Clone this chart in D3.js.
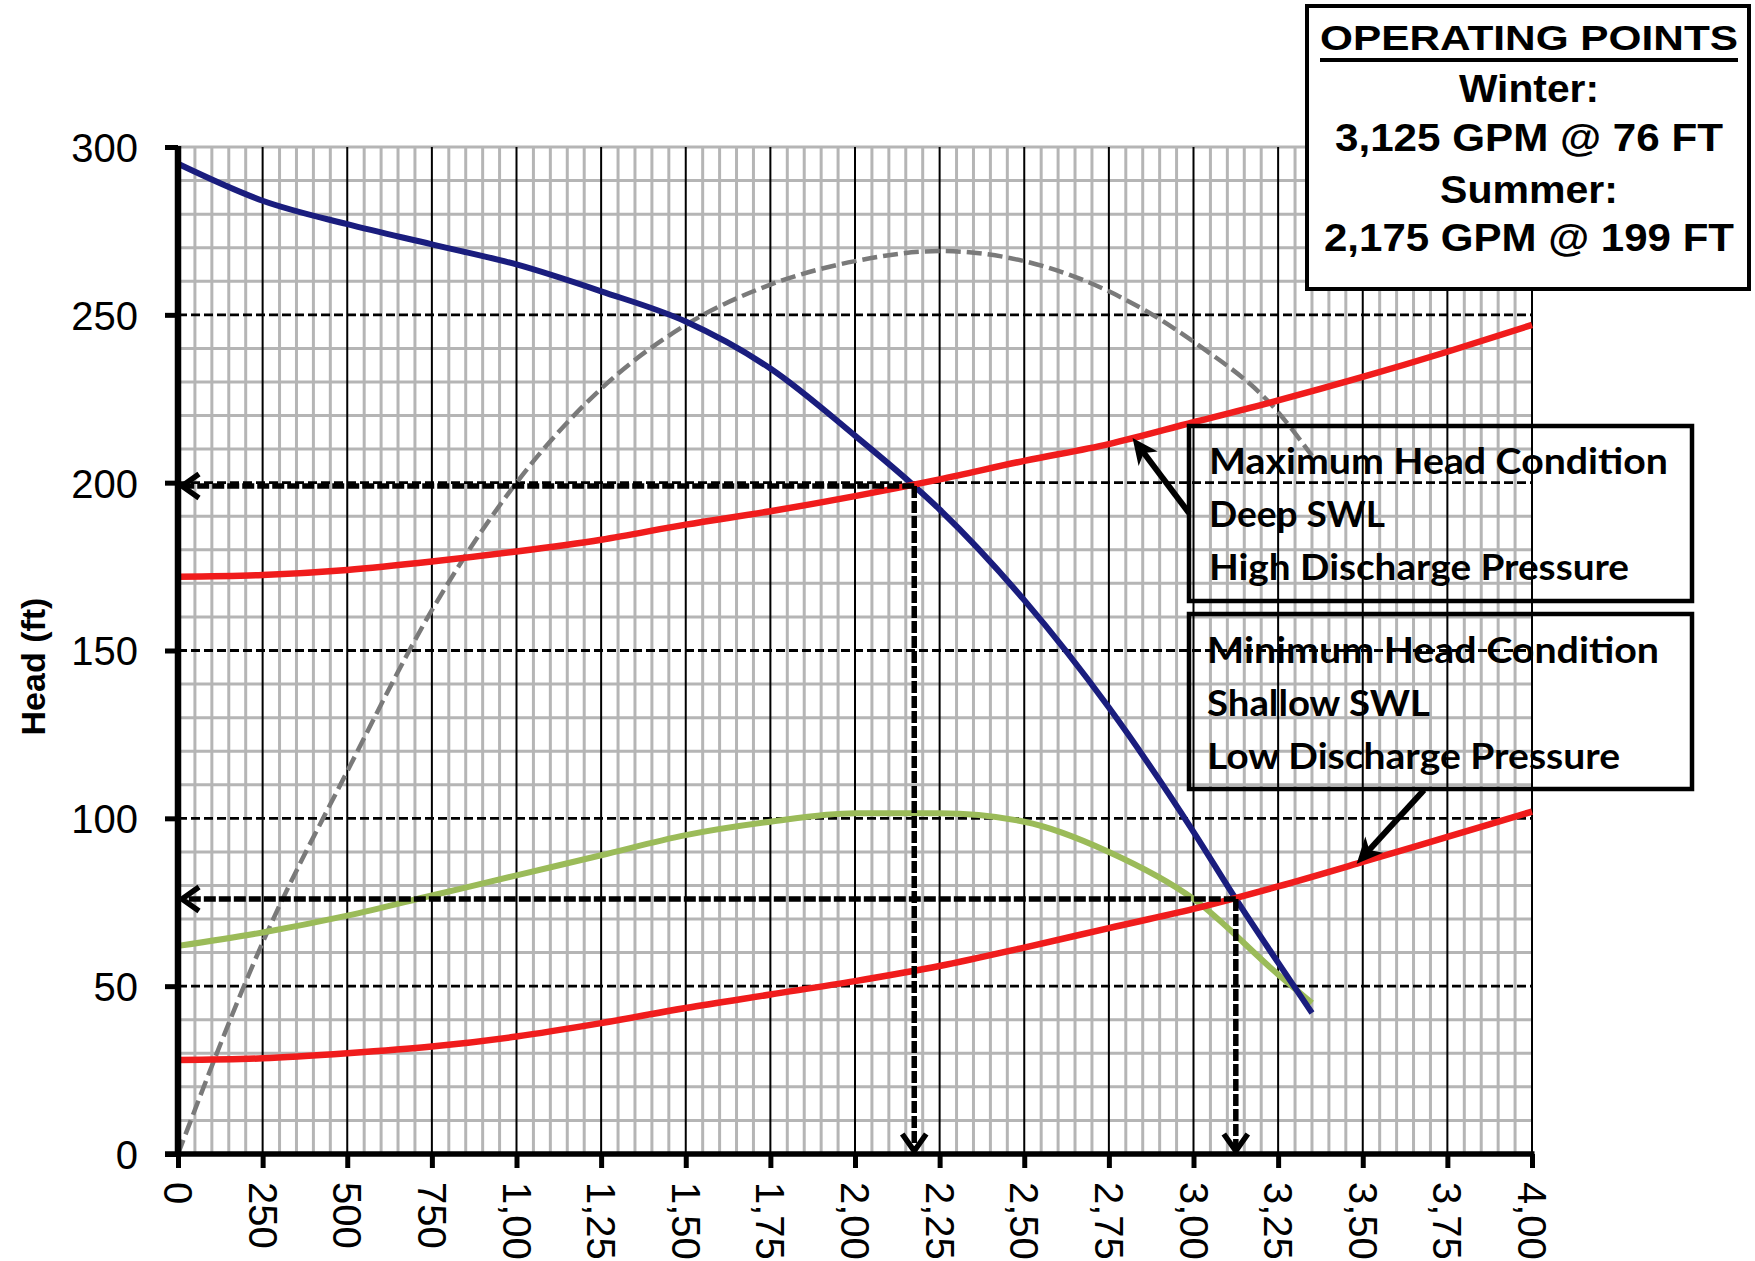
<!DOCTYPE html>
<html>
<head>
<meta charset="utf-8">
<script src="https://cdn.jsdelivr.net/npm/d3@7"></script>
<style>
  html, body { margin: 0; padding: 0; background: #fff; overflow: hidden; }
  svg { display: block; }
</style>
</head>
<body>
<svg id="chart" width="1755" height="1261"></svg>
<script>
// ---- Pump curve: head (ft) vs flow (GPM) ----
const pumpFlow = [0, 250, 500, 750, 1000, 1250, 1500, 1750, 2000, 2175, 2250, 2500, 2750, 3000, 3125, 3250, 3350];
const pumpHead = [295, 284, 277, 271, 265, 257, 248, 234, 214, 199, 192, 165, 133, 96, 76, 57, 42];

// ---- Efficiency curve (grey dashed), plotted on the head scale ----
const effFlow = [0, 250, 500, 750, 1000, 1250, 1500, 1750, 2000, 2250, 2500, 2750, 3000, 3250, 3350];
const effValue = [0, 63, 114, 162, 200, 228, 247, 259, 266, 269, 266, 257, 242, 221, 208];

// ---- Brake horsepower curve (green), plotted on the head scale ----
const bhpFlow = [0, 250, 500, 750, 1000, 1250, 1500, 1750, 2000, 2250, 2500, 2750, 3000, 3250, 3350];
const bhpValue = [62, 66, 71, 77, 83, 89, 95, 99, 101.5, 101.5, 99, 90, 76, 53.5, 45];

// ---- System curves (red) ----
const systemFlow = [0, 250, 500, 750, 1000, 1250, 1500, 1750, 2000, 2250, 2500, 2750, 3000, 3250, 3500, 3750, 4000];
const systemHighHead = [172, 172.5, 174, 176.5, 179.5, 183, 187.5, 191.5, 196, 201, 206.5, 211.5, 218, 224.5, 231.5, 239, 247];
const systemLowHead = [28, 28.5, 30, 32, 35, 39, 43.5, 47.5, 51.5, 56, 61.5, 67.3, 73, 79.7, 87, 94.5, 102];

// ---- Operating points: [summer, winter] ----
const operatingSeason = ["Summer", "Winter"];
const operatingFlow = [2175, 3125];
const operatingHead = [199, 76];

// ---- Axis ticks ----
const headTicks = [0, 50, 100, 150, 200, 250, 300];
const flowTicks = [0, 250, 500, 750, 1000, 1250, 1500, 1750, 2000, 2250, 2500, 2750, 3000, 3250, 3500, 3750, 4000];

// ---- Text ----
const headTitle = "Head (ft)";
const pointsTitle = "OPERATING POINTS";
const maxCondition = ["Maximum Head Condition", "Deep SWL", "High Discharge Pressure"];
const minCondition = ["Minimum Head Condition", "Shallow SWL", "Low Discharge Pressure"];

// ---- Layout ----
const plot = { left: 178, right: 1532, top: 147, bottom: 1154 };
const ARIAL = "'Liberation Sans', Arial, sans-serif";
const CALIBRI = "Lato, 'Open Sans', sans-serif";

const svg = d3.select("#chart");
const x = d3.scaleLinear().domain([0, 4000]).range([plot.left, plot.right]);
const y = d3.scaleLinear().domain([0, 300]).range([plot.bottom, plot.top]);
const fmt = d3.format(",");

// ---------- grid ----------
const grid = svg.append("g");
const minorFlow = d3.range(50, 4000, 50).filter(v => v % 250 !== 0);
const minorHead = d3.range(10, 301, 10).filter(v => v % 50 !== 0).concat([300]);
grid.selectAll(".mx").data(minorFlow).join("line")
  .attr("x1", d => x(d)).attr("x2", d => x(d))
  .attr("y1", y(0)).attr("y2", y(300))
  .attr("stroke", "#b5b5b5").attr("stroke-width", 3);
grid.selectAll(".my").data(minorHead).join("line")
  .attr("x1", x(0)).attr("x2", x(4000))
  .attr("y1", d => y(d)).attr("y2", d => y(d))
  .attr("stroke", "#b5b5b5").attr("stroke-width", 3);
grid.selectAll(".Mx").data(flowTicks.filter(v => v > 0)).join("line")
  .attr("x1", d => x(d)).attr("x2", d => x(d))
  .attr("y1", y(0)).attr("y2", y(300))
  .attr("stroke", "#000").attr("stroke-width", 2);
grid.selectAll(".My").data(headTicks.filter(v => v > 0 && v < 300)).join("line")
  .attr("x1", x(0)).attr("x2", x(4000))
  .attr("y1", d => y(d)).attr("y2", d => y(d))
  .attr("stroke", "#000").attr("stroke-width", 2.8)
  .attr("stroke-dasharray", "9,4");

// ---------- curves ----------
const lineGen = d3.line().x(d => x(d[0])).y(d => y(d[1])).curve(d3.curveMonotoneX);
const zip = (a, b) => a.map((v, i) => [v, b[i]]);

svg.append("path").datum(zip(effFlow, effValue)).attr("d", lineGen)
  .attr("fill", "none").attr("stroke", "#7a7a7a").attr("stroke-width", 4.5)
  .attr("stroke-dasharray", "15,6");
svg.append("path").datum(zip(bhpFlow, bhpValue)).attr("d", lineGen)
  .attr("fill", "none").attr("stroke", "#9bbb59").attr("stroke-width", 6);
svg.append("path").datum(zip(pumpFlow, pumpHead)).attr("d", lineGen)
  .attr("fill", "none").attr("stroke", "#1a1d7e").attr("stroke-width", 6);
svg.append("path").datum(zip(systemFlow, systemHighHead)).attr("d", lineGen)
  .attr("fill", "none").attr("stroke", "#f01c1c").attr("stroke-width", 6.5);
svg.append("path").datum(zip(systemFlow, systemLowHead)).attr("d", lineGen)
  .attr("fill", "none").attr("stroke", "#f01c1c").attr("stroke-width", 6.5);

// ---------- operating point leaders (dashed arrows to both axes) ----------
const lead = svg.append("g");
operatingFlow.forEach((q, i) => {
  const px = x(q), py = y(operatingHead[i]);
  const ax = x(0) + 4, ay = y(0) - 3;
  lead.append("line").attr("x1", px).attr("y1", py).attr("x2", ax + 3).attr("y2", py)
    .attr("stroke", "#000").attr("stroke-width", 5.5).attr("stroke-dasharray", "12,3");
  lead.append("line").attr("x1", px).attr("y1", py).attr("x2", px).attr("y2", ay - 3)
    .attr("stroke", "#000").attr("stroke-width", 5.5).attr("stroke-dasharray", "12,3");
  lead.append("path")
    .attr("d", `M${ax + 17},${py - 12} L${ax},${py} L${ax + 17},${py + 12}`)
    .attr("fill", "none").attr("stroke", "#000").attr("stroke-width", 5.5);
  lead.append("path")
    .attr("d", `M${px - 12},${ay - 17} L${px},${ay} L${px + 12},${ay - 17}`)
    .attr("fill", "none").attr("stroke", "#000").attr("stroke-width", 5.5);
});

// ---------- axes ----------
const yAxis = svg.append("g").attr("transform", `translate(${plot.left},0)`)
  .call(d3.axisLeft(y).tickValues(headTicks).tickSize(13).tickPadding(27).tickFormat(d3.format("d")));
yAxis.select(".domain").remove();
yAxis.selectAll(".tick line").attr("stroke", "#000").attr("stroke-width", 5);
yAxis.selectAll(".tick text").attr("font-family", ARIAL).attr("font-size", 40).attr("fill", "#000").attr("dy", "0.36em");

const xAxis = svg.append("g").attr("transform", `translate(0,${plot.bottom})`)
  .call(d3.axisBottom(x).tickValues(flowTicks).tickSize(14).tickFormat(fmt));
xAxis.select(".domain").remove();
xAxis.selectAll(".tick line").attr("stroke", "#000").attr("stroke-width", 5);
xAxis.selectAll(".tick text")
  .attr("font-family", ARIAL).attr("font-size", 40).attr("fill", "#000")
  .attr("text-anchor", "start")
  .attr("y", 0).attr("dy", "0.36em")
  .attr("transform", "translate(0,28) rotate(90)");

svg.append("line").attr("x1", plot.left).attr("x2", plot.left)
  .attr("y1", plot.top - 1).attr("y2", plot.bottom + 2.5)
  .attr("stroke", "#000").attr("stroke-width", 6.5);
svg.append("line").attr("x1", plot.left - 13).attr("x2", plot.right + 2.5)
  .attr("y1", plot.bottom).attr("y2", plot.bottom)
  .attr("stroke", "#000").attr("stroke-width", 5.5);

svg.append("text").text(headTitle)
  .attr("transform", `translate(33,${(plot.top + plot.bottom) / 2 + 16}) rotate(-90)`)
  .attr("text-anchor", "middle").attr("dy", "0.36em")
  .attr("font-family", ARIAL).attr("font-weight", "bold").attr("font-size", 34);

// ---------- operating points box ----------
const opBox = svg.append("g");
opBox.append("rect").attr("x", 1307).attr("y", 6).attr("width", 442).attr("height", 283)
  .attr("fill", "#fff").attr("stroke", "#000").attr("stroke-width", 4);
const cx = 1529;
opBox.append("text").text(pointsTitle)
  .attr("x", cx).attr("y", 50).attr("text-anchor", "middle")
  .attr("font-family", ARIAL).attr("font-weight", "bold").attr("font-size", 35)
  .attr("textLength", 418).attr("lengthAdjust", "spacingAndGlyphs");
opBox.append("line").attr("x1", cx - 209).attr("x2", cx + 209).attr("y1", 60).attr("y2", 60)
  .attr("stroke", "#000").attr("stroke-width", 4);
const summer = 0, winter = 1;
const pointsLines = [
  { t: operatingSeason[winter] + ":", y: 102, w: 140 },
  { t: `${fmt(operatingFlow[winter])} GPM @ ${operatingHead[winter]} FT`, y: 151, w: 388 },
  { t: operatingSeason[summer] + ":", y: 203, w: 178 },
  { t: `${fmt(operatingFlow[summer])} GPM @ ${operatingHead[summer]} FT`, y: 251, w: 410 }
];
pointsLines.forEach(l => {
  opBox.append("text").text(l.t).attr("x", cx).attr("y", l.y).attr("text-anchor", "middle")
    .attr("font-family", ARIAL).attr("font-weight", "bold").attr("font-size", 39)
    .attr("textLength", l.w).attr("lengthAdjust", "spacingAndGlyphs");
});

// ---------- condition callouts ----------
function interp(xs, ys, q) {
  const i = Math.max(1, d3.bisectLeft(xs, q));
  const t = (q - xs[i - 1]) / (xs[i] - xs[i - 1]);
  return ys[i - 1] + t * (ys[i] - ys[i - 1]);
}
function callout(tail, tipFlow, heads) {
  const tx = x(tipFlow), ty = y(interp(systemFlow, heads, tipFlow));
  const dx = tx - tail[0], dy = ty - tail[1];
  const len = Math.hypot(dx, dy), ux = dx / len, uy = dy / len;
  const nx = -uy, ny = ux, L = 26, W = 12;
  svg.append("line").attr("x1", tail[0]).attr("y1", tail[1])
    .attr("x2", tx - ux * L * 0.7).attr("y2", ty - uy * L * 0.7)
    .attr("stroke", "#000").attr("stroke-width", 6);
  const pts = [
    [tx, ty],
    [tx - ux * L + nx * W, ty - uy * L + ny * W],
    [tx - ux * L * 0.72, ty - uy * L * 0.72],
    [tx - ux * L - nx * W, ty - uy * L - ny * W]
  ];
  svg.append("polygon").attr("points", pts.map(p => p.join(",")).join(" ")).attr("fill", "#000");
}

function conditionBox(bx, by, lines, baselines, widths, textX) {
  const g = svg.append("g");
  g.append("rect").attr("x", bx).attr("y", by).attr("width", 503).attr("height", 175)
    .attr("fill", "none").attr("stroke", "#000").attr("stroke-width", 4.5);
  lines.forEach((t, i) => {
    g.append("text").text(t).attr("x", textX).attr("y", baselines[i])
      .attr("font-family", CALIBRI).attr("font-weight", "bold").attr("font-size", 36)
      .attr("textLength", widths[i]).attr("lengthAdjust", "spacingAndGlyphs");
  });
}

conditionBox(1189, 426, maxCondition, [474, 527, 580], [459, 176, 420], 1209);
conditionBox(1189, 614, minCondition, [663, 716, 769], [452, 223, 413], 1207);
callout([1189, 513], 2820, systemHighHead);
callout([1424, 790], 3482, systemLowHead);
</script>
</body>
</html>
